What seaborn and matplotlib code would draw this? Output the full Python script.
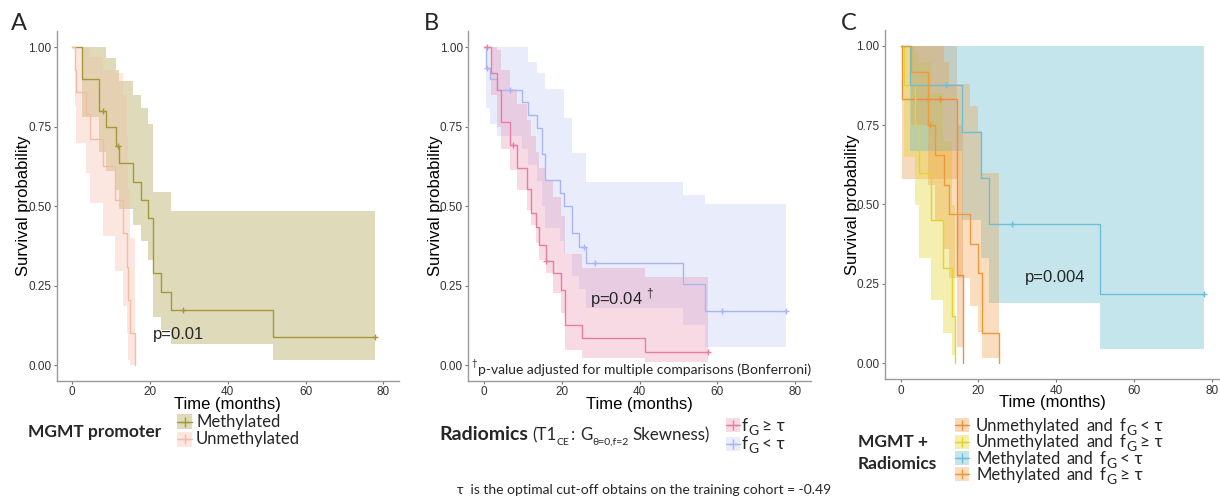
import numpy as np
import matplotlib
matplotlib.use("Agg")
import matplotlib.pyplot as plt
import seaborn as sns
from matplotlib.patches import Rectangle

# ---------------- data ----------------
# Panel A: MGMT promoter
meth_t = [0, 2.4, 6.9, 8.7, 11.2, 12.0, 15.7, 17.8, 19.6, 20.7, 22.7, 25.5, 51.5]
meth_s = [1.0, 0.90, 0.80, 0.75, 0.69, 0.637, 0.577, 0.52, 0.463, 0.289, 0.23, 0.173, 0.087]
meth_lo = [1.0, 0.78, 0.67, 0.61, 0.55, 0.49, 0.44, 0.39, 0.33, 0.15, 0.11, 0.065, 0.016]
meth_hi = [1.0, 1.0, 1.0, 0.965, 0.93, 0.895, 0.85, 0.81, 0.76, 0.545, 0.545, 0.485, 0.485]
meth_end = 77.9
meth_cens = [7.8, 11.8, 28.6, 77.9]

unmeth_t = [0, 0.6, 1.0, 3.4, 4.6, 7.8, 11.0, 13.1, 14.0, 14.4, 14.8, 16.0]
unmeth_s = [1.0, 0.93, 0.86, 0.79, 0.71, 0.625, 0.52, 0.415, 0.31, 0.205, 0.10, 0.0]
unmeth_lo = [1.0, 0.815, 0.70, 0.605, 0.51, 0.406, 0.297, 0.186, 0.10, 0.016, 0.0, 0.0]
unmeth_hi = [1.0, 1.0, 1.0, 1.0, 0.97, 0.93, 0.92, 0.85, 0.72, 0.55, 0.40, 0.0]

# Panel B: Radiomics
pink_t = [0, 1.8, 3.4, 4.3, 6.7, 8.6, 11.0, 12.0, 13.4, 14.2, 16.0, 17.7, 19.7, 20.8, 25.3, 41.3]
pink_s = [1.0, 0.92, 0.866, 0.766, 0.693, 0.62, 0.553, 0.477, 0.435, 0.378, 0.327, 0.289, 0.236, 0.126, 0.084, 0.042]
pink_lo = [1.0, 0.85, 0.75, 0.68, 0.614, 0.55, 0.488, 0.44, 0.383, 0.33, 0.289, 0.226, 0.163, 0.047, 0.021, 0.01]
pink_hi = [1.0, 1.0, 0.99, 0.93, 0.87, 0.82, 0.77, 0.72, 0.67, 0.62, 0.58, 0.53, 0.47, 0.35, 0.305, 0.278]
pink_end = 57.7
pink_cens = [0.7, 7.5, 16.0, 57.7]

blue_t = [0, 0.4, 1.5, 3.4, 9.7, 11.4, 13.7, 14.8, 15.7, 19.6, 20.6, 22.6, 24.4, 26.2, 51.3, 56.9]
blue_s = [1.0, 0.934, 0.90, 0.866, 0.827, 0.787, 0.745, 0.663, 0.582, 0.54, 0.50, 0.415, 0.373, 0.32, 0.255, 0.171]
blue_lo = [1.0, 0.81, 0.76, 0.72, 0.68, 0.63, 0.58, 0.50, 0.43, 0.39, 0.35, 0.28, 0.24, 0.178, 0.126, 0.058]
blue_hi = [1.0, 1.0, 1.0, 1.0, 1.0, 0.955, 0.918, 0.918, 0.87, 0.87, 0.776, 0.666, 0.666, 0.577, 0.535, 0.507]
blue_end = 77.7
blue_cens = [0.7, 6.7, 25.8, 28.6, 61.3, 77.7]

# Panel C: MGMT + Radiomics
ua_t = [0, 0.3, 14.4, 16.0]
ua_s = [1.0, 0.833, 0.278, 0.0]
ua_lo = [1.0, 0.58, 0.05, 0.0]
ua_hi = [1.0, 1.0, 0.75, 0.0]
ua_cens = [7.1, 10.1]

ub_t = [0, 0.9, 3.7, 4.7, 7.8, 11.0, 13.3, 14.0]
ub_s = [1.0, 0.875, 0.75, 0.60, 0.45, 0.30, 0.15, 0.0]
ub_lo = [1.0, 0.65, 0.50, 0.333, 0.20, 0.097, 0.026, 0.0]
ub_hi = [1.0, 1.0, 0.98, 0.95, 0.85, 0.70, 0.50, 0.0]

mc_t = [0, 2.4, 15.7, 20.7, 22.8, 51.3]
mc_s = [1.0, 0.875, 0.729, 0.583, 0.4375, 0.219]
mc_lo = [1.0, 0.67, 0.45, 0.33, 0.19, 0.045]
mc_hi = [1.0, 1.0, 1.0, 1.0, 1.0, 1.0]
mc_end = 77.9
mc_cens = [11.7, 28.6, 77.9]

md_t = [0, 2.7, 6.9, 8.7, 11.2, 12.3, 17.8, 19.8, 20.8, 25.4]
md_s = [1.0, 0.918, 0.75, 0.656, 0.561, 0.47, 0.376, 0.283, 0.094, 0.0]
md_lo = [1.0, 0.75, 0.56, 0.45, 0.36, 0.27, 0.18, 0.10, 0.016, 0.0]
md_hi = [1.0, 1.0, 1.0, 1.0, 0.95, 0.88, 0.81, 0.73, 0.60, 0.0]
md_cens = [7.5]

x_ticks = [0, 20, 40, 60, 80]
y_ticks = [0.0, 0.25, 0.5, 0.75, 1.0]
y_ticklabels = ["0.00", "0.25", "0.50", "0.75", "1.00"]

legA_labels = ["Methylated", "Unmethylated"]
legB_labels = [("f", "G", "≥ τ"), ("f", "G", "< τ")]
legC_labels = [("Unmethylated and f", "G", "< τ"), ("Unmethylated and f", "G", "≥ τ"),
               ("Methylated and f", "G", "< τ"), ("Methylated and f", "G", "≥ τ")]

# ---------------- style ----------------
sns.set_theme(style="white")
plt.rcParams["font.family"] = ["Liberation Sans", "DejaVu Sans"]
plt.rcParams["mathtext.fontset"] = "custom"
plt.rcParams["mathtext.rm"] = "Liberation Sans"
plt.rcParams["mathtext.fallback"] = "stixsans"

W, H = 1220, 497
fig = plt.figure(figsize=(W / 100, H / 100), dpi=100)

CAL = ["Lato", "DejaVu Sans"]
ARIAL = ["Liberation Sans", "DejaVu Sans"]


def px_axes(l, r, t, b):
    return fig.add_axes([l / W, 1 - b / H, (r - l) / W, (b - t) / H])


def extend(t, *cols, end=None):
    t = list(t)
    cols = [list(c) for c in cols]
    if end is not None and end > t[-1]:
        t.append(end)
        for c in cols:
            c.append(c[-1])
    return t, cols


def draw_band(ax, t, lo, hi, color, alpha, end=None):
    tt, (l, h) = extend(t, lo, hi, end=end)
    ax.fill_between(tt, l, h, step="post", color=color, alpha=alpha, lw=0)


def draw_line(ax, t, s, color, end=None, cens=()):
    tt, (ss,) = extend(t, s, end=end)
    sns.lineplot(x=tt, y=ss, ax=ax, color=color, lw=1.0, drawstyle="steps-post",
                 estimator=None, sort=False)
    if len(cens):
        idx = np.searchsorted(tt, cens, side="right") - 1
        ys = np.array(ss)[np.clip(idx, 0, len(ss) - 1)]
        sns.scatterplot(x=list(cens), y=list(ys), ax=ax, marker="+", color=color,
                        s=22, linewidth=1.0)


def style_axes(ax, xlim):
    ax.set_xlim(*xlim)
    ax.set_ylim(-0.05, 1.05)
    ax.set_xticks(x_ticks)
    ax.set_yticks(y_ticks)
    ax.set_yticklabels(y_ticklabels)
    for lab in ax.get_xticklabels() + ax.get_yticklabels():
        lab.set_fontfamily(ARIAL)
        lab.set_fontsize(8.5)
        lab.set_color("#333333")
    ax.tick_params(axis="both", length=2.5, width=0.8, color="#777777", pad=1.5,
                   left=True, bottom=True)
    for sp in ["top", "right"]:
        ax.spines[sp].set_visible(False)
    for sp in ["left", "bottom"]:
        ax.spines[sp].set_color("#9a9a9a")
        ax.spines[sp].set_linewidth(1.0)
    ax.set_facecolor("none")
    ax.set_xlabel("Time (months)", fontsize=12, fontfamily=ARIAL, color="black")
    ax.set_ylabel("Survival probability", fontsize=12, fontfamily=ARIAL, color="black")
    ax.xaxis.set_label_coords(0.5, -0.046)
    ax.yaxis.set_label_coords(-0.075, 0.5)


# ---------------- Panel A ----------------
c_meth, a_meth = "#A4983A", 0.35
c_unm, a_unm = "#F5BCA5", 0.35
axA = px_axes(56.75, 398.85, 31.4, 380.9)
draw_band(axA, meth_t, meth_lo, meth_hi, c_meth, a_meth, end=meth_end)
draw_band(axA, unmeth_t, unmeth_lo, unmeth_hi, c_unm, a_unm)
draw_line(axA, meth_t, meth_s, c_meth, end=meth_end, cens=meth_cens)
draw_line(axA, unmeth_t, unmeth_s, c_unm)
style_axes(axA, (-4, 84))
axA.text(20.8, 0.097, "p=0.01", fontsize=12, fontfamily=ARIAL, va="center", ha="left")

# ---------------- Panel B ----------------
c_pink, a_pink = "#E87DA3", 0.28
c_blue, a_blue = "#AAB5F2", 0.25
axB = px_axes(468.45, 810.55, 31.4, 380.9)
draw_band(axB, blue_t, blue_lo, blue_hi, c_blue, a_blue, end=blue_end)
draw_band(axB, pink_t, pink_lo, pink_hi, c_pink, a_pink, end=pink_end)
draw_line(axB, blue_t, blue_s, c_blue, end=blue_end, cens=blue_cens)
draw_line(axB, pink_t, pink_s, c_pink, end=pink_end, cens=pink_cens)
style_axes(axB, (-4, 84))
axB.text(27.3, 0.211, r"p=0.04 $^{\mathregular{†}}$", fontsize=12, fontfamily=ARIAL,
         va="center", ha="left")

# ---------------- Panel C ----------------
c_ua, a_ua = "#E8913A", 0.33
c_ub, a_ub = "#E3D32E", 0.38
c_mc, a_mc = "#6EBED4", 0.40
c_md, a_md = "#EE9A3C", 0.33
axC = px_axes(885.15, 1219.5, 29.8, 379.2)
draw_band(axC, ua_t, ua_lo, ua_hi, c_ua, a_ua)
draw_band(axC, ub_t, ub_lo, ub_hi, c_ub, a_ub)
draw_band(axC, mc_t, mc_lo, mc_hi, c_mc, a_mc, end=mc_end)
draw_band(axC, md_t, md_lo, md_hi, c_md, a_md)
draw_line(axC, ua_t, ua_s, c_ua, cens=ua_cens)
draw_line(axC, ub_t, ub_s, c_ub)
draw_line(axC, mc_t, mc_s, c_mc, end=mc_end, cens=mc_cens)
draw_line(axC, md_t, md_s, c_md, cens=md_cens)
style_axes(axC, (-4, 82))
axC.text(32, 0.27, "p=0.004", fontsize=12, fontfamily=ARIAL, va="center", ha="left")

# ---------------- overlay (pixel coordinates) for annotations ----------------
lax = fig.add_axes([0, 0, 1, 1], facecolor="none")
lax.set_xlim(0, W)
lax.set_ylim(H, 0)
lax.axis("off")
renderer = fig.canvas.get_renderer()


def rich(x, y, pieces):
    """pieces: (text, size_pt, weight, dy_px, gap_after_px)"""
    for s, size, weight, dy, gap in pieces:
        t = lax.text(x, y + dy, s, fontsize=size, fontweight=weight, fontfamily=CAL,
                     ha="left", va="baseline")
        x += t.get_window_extent(renderer).width + gap
    return x


def key(xc, yc, color, alpha, size=15):
    lax.add_patch(Rectangle((xc - size / 2, yc - size / 2), size, size,
                            facecolor=color, alpha=alpha, lw=0))
    lax.plot([xc - size / 2, xc + size / 2], [yc, yc], color=color, lw=1.0)
    lax.plot([xc], [yc], marker="+", color=color, ms=7, mew=1.0)


# panel letters
for x, lab in [(19, "A"), (431, "B"), (849, "C")]:
    lax.text(x, 24, lab, fontsize=17, fontfamily=CAL, ha="center", va="center")

# Legend A
lax.text(28, 436.7, "MGMT promoter", fontsize=12.5, fontfamily=CAL, fontweight="bold",
         ha="left", va="baseline")
for (yc, yb), lab, c, a in zip([(421.5, 427.3), (439.0, 444.3)], legA_labels,
                               [c_meth, c_unm], [a_meth, a_unm]):
    key(184.5, yc, c, a)
    lax.text(196, yb, lab, fontsize=12, fontfamily=CAL, ha="left", va="baseline")

# Legend B
rich(439, 440.3, [("Radiomics", 14, "bold", 0, 4),
                  ("(T1", 12.2, "normal", 0, 0.5),
                  ("CE", 7.5, "normal", 4.5, 1),
                  (":", 12.2, "normal", 0, 5),
                  ("G", 12.2, "normal", 0, 0.5),
                  ("θ=0,f=2", 7.5, "normal", 4.5, 3),
                  ("Skewness)", 12.2, "normal", 0, 0)])
for (yc, yb), (a_, sub, b_), c, a in zip([(425, 430.7), (443.5, 449.3)], legB_labels,
                                          [c_pink, c_blue], [a_pink, a_blue]):
    key(733, yc, c, a, size=14)
    rich(742, yb, [(a_, 12.5, "normal", 0, 0.3), (sub, 10, "normal", 4, 3.5),
                   (b_, 12.5, "normal", 0, 0)])

lax.text(457, 494.5, "τ  is the optimal cut-off obtains on the training cohort = -0.49",
         fontsize=10, fontfamily=CAL, ha="left", va="baseline")
lax.text(477.5, 373.5, "p-value adjusted for multiple comparisons (Bonferroni)",
         fontsize=10, fontfamily=CAL, ha="left", va="baseline")
lax.text(471.5, 366.5, "†", fontsize=7, fontfamily=CAL, ha="left", va="baseline")

# Legend C
lax.text(858, 447.3, "MGMT +", fontsize=12.5, fontfamily=CAL, fontweight="bold",
         ha="left", va="baseline")
lax.text(858, 469, "Radiomics", fontsize=12.5, fontfamily=CAL, fontweight="bold",
         ha="left", va="baseline")
for (yc, yb), (a_, sub, b_), c, a in zip([(425, 430.7), (442, 447.3), (458, 464), (474, 480)],
                                          legC_labels, [c_ua, c_ub, c_mc, c_md],
                                          [a_ua, a_ub, a_mc, a_md]):
    key(961.5, yc, c, a, size=14)
    words = a_.split(" ")
    pieces = [(w, 12, "normal", 0, 6.5) for w in words[:-1]]
    pieces += [(words[-1], 12, "normal", 0, 0.3), (sub, 10, "normal", 4, 4),
               (b_, 12.5, "normal", 0, 0)]
    rich(976, yb, pieces)

fig.savefig("out.png", dpi=100)
